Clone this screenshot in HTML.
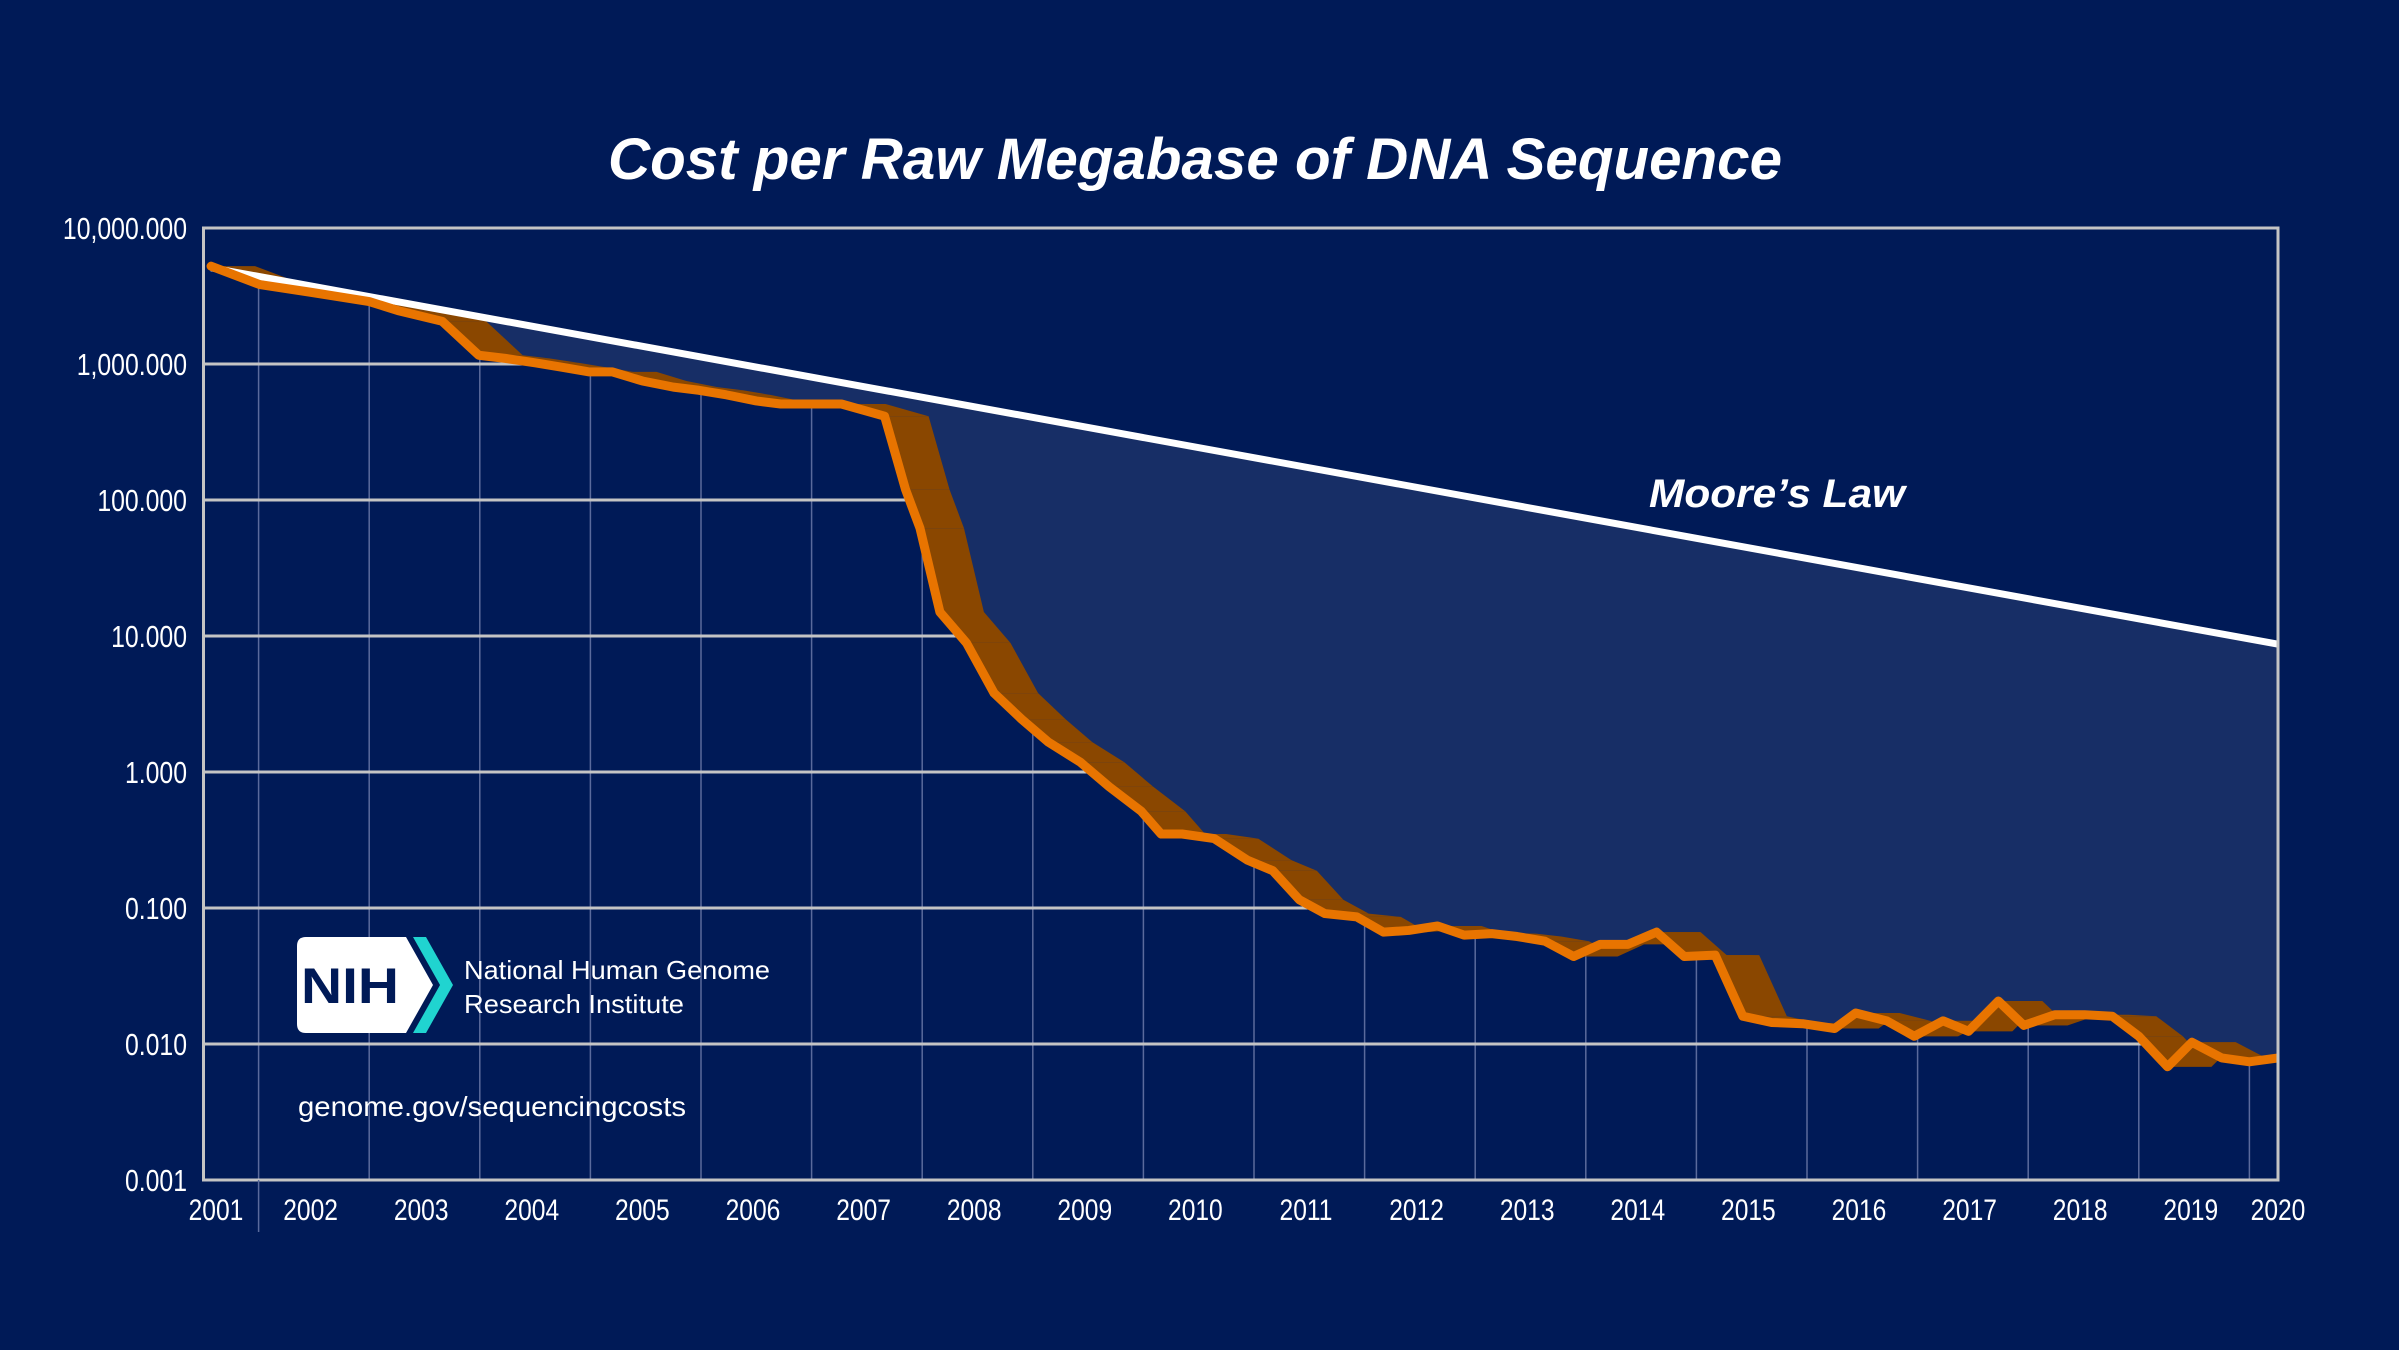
<!DOCTYPE html>
<html><head><meta charset="utf-8"><style>
html,body{margin:0;padding:0;background:#001a57;}
svg{display:block;}
text{font-family:"Liberation Sans",sans-serif;}
</style></head><body>
<svg id="chart" width="2399" height="1350" viewBox="0 0 2399 1350" xmlns="http://www.w3.org/2000/svg">
<rect x="0" y="0" width="2399" height="1350" fill="#001a57"/>
<text x="1195" y="179" text-anchor="middle" font-size="58" font-weight="bold" font-style="italic" fill="#fff" textLength="1174" lengthAdjust="spacingAndGlyphs">Cost per Raw Megabase of DNA Sequence</text>
<defs>
<clipPath id="plotClip"><rect x="203.5" y="228" width="2074.5" height="952"/></clipPath>
<clipPath id="gridClip"><polygon id="gridClipPoly" points=""/></clipPath>
</defs>
<g id="gridV"></g>
<g id="gridH"></g>
<g id="marks" clip-path="url(#plotClip)"></g>
<rect x="203.5" y="228" width="2074.5" height="952" fill="none" stroke="#c4c4c4" stroke-width="3"/>
<line x1="258.6" y1="1180" x2="258.6" y2="1232" stroke="#5a6a9c" stroke-width="1.5"/>
<g id="yLabels"></g>
<g id="xLabels"></g>
<text x="1649" y="507" font-size="40" font-weight="bold" font-style="italic" fill="#fff" textLength="256" lengthAdjust="spacingAndGlyphs">Moore’s Law</text>
<g>
<path d="M306 937 H406 L433 985 L406 1033 H306 Q297 1033 297 1024 V946 Q297 937 306 937 Z" fill="#fff"/>
<path d="M413 937 H426 L453 985 L426 1033 H413 L440 985 Z" fill="#20d4d0"/>
<text x="350" y="1003" text-anchor="middle" font-size="50" font-weight="bold" fill="#001a57" textLength="98" lengthAdjust="spacingAndGlyphs">NIH</text>
<text x="464" y="979" font-size="26" fill="#fff" textLength="306" lengthAdjust="spacingAndGlyphs">National Human Genome</text>
<text x="464" y="1013" font-size="26" fill="#fff" textLength="220" lengthAdjust="spacingAndGlyphs">Research Institute</text>
</g>
<text x="298" y="1116" font-size="28" fill="#fff" textLength="388" lengthAdjust="spacingAndGlyphs">genome.gov/sequencingcosts</text>
</svg>
<script>
const dates = [2001.57,2002.01,2002.47,2003.00,2003.26,2003.66,2003.99,2004.23,2004.50,2004.74,2004.99,2005.20,2005.47,2005.75,2005.98,2006.23,2006.50,2006.72,2006.98,2007.27,2007.66,2007.85,2007.98,2008.16,2008.40,2008.65,2008.90,2009.14,2009.43,2009.69,2009.98,2010.16,2010.35,2010.64,2010.94,2011.17,2011.41,2011.64,2011.93,2012.17,2012.40,2012.66,2012.90,2013.15,2013.38,2013.63,2013.89,2014.13,2014.38,2014.64,2014.89,2015.17,2015.42,2015.68,2015.96,2016.25,2016.44,2016.72,2016.97,2017.23,2017.46,2017.73,2017.96,2018.24,2018.51,2018.76,2019.00,2019.26,2019.48,2019.75,2020.00,2020.26];
const costs = [5240,3840,3370,2880,2470,2060,1160,1100,1020,947,875,875,750,676,641,593,535,508,508,508,413,119,62,15,8.9,3.8,2.44,1.66,1.18,0.78,0.515,0.35,0.35,0.324,0.225,0.188,0.115,0.091,0.086,0.0665,0.0684,0.0738,0.0632,0.0648,0.0617,0.057,0.044,0.054,0.054,0.0665,0.044,0.045,0.016,0.0144,0.0141,0.013,0.0169,0.0148,0.0114,0.0148,0.0124,0.0207,0.0137,0.0164,0.0164,0.016,0.0114,0.0068,0.0103,0.0079,0.0074,0.0079];
const mooreDates = [2001.57,2020.26];
const mooreCosts = [5100,8.7];
const yTicks = [10000,1000,100,10,1,0.1,0.01,0.001];
const yTickLabels = ["10,000.000","1,000.000","100.000","10.000","1.000","0.100","0.010","0.001"];
const years = [2001,2002,2003,2004,2005,2006,2007,2008,2009,2010,2011,2012,2013,2014,2015,2016,2017,2018,2019,2020];

const NS="http://www.w3.org/2000/svg";
const L=203.5,R=2278,T=228,B=1180;
function xs(t){return 258.6+(t-2002)*110.6;}
function ys(v){return T+(4-Math.log10(v))*136;}
function mk(tag,attrs,parent){const e=document.createElementNS(NS,tag);for(const k in attrs)e.setAttribute(k,attrs[k]);parent.appendChild(e);return e;}
const pts=dates.map((d,i)=>[xs(d),ys(costs[i])]);
const mp=mooreDates.map((d,i)=>[xs(d),ys(mooreCosts[i])]);

document.getElementById('gridClipPoly').setAttribute('points',[[L,pts[0][1]],...pts,[R,pts[pts.length-1][1]],[R,B],[L,B]].map(p=>p.join(',')).join(' '));
const gv=document.getElementById('gridV');gv.setAttribute('clip-path','url(#gridClip)');
for(let y=2002;y<=2020;y++){
  const l=mk('line',{x1:xs(y),x2:xs(y),y1:T,y2:B,stroke:'#5a6a9c','stroke-width':1.5},gv);
  
  
}
const gh=document.getElementById('gridH');gh.setAttribute('clip-path','url(#gridClip)');
yTicks.forEach(v=>{
  const l=mk('line',{x1:L,x2:R,y1:ys(v),y2:ys(v),stroke:'#c4c4c4','stroke-width':3},gh);
  
  
});
const marks=document.getElementById('marks');
const fillPts=[...mp,...pts.slice().reverse()];
const fill=mk('polygon',{points:fillPts.map(p=>p.join(',')).join(' '),fill:'#172e66'},marks);


const band=mk('g',{fill:'#8a4700'},marks);


const dx=44;
for(let i=0;i<pts.length-1;i++){
  const a=pts[i],b=pts[i+1];
  const q=mk('polygon',{points:[a,b,[b[0]+dx,b[1]],[a[0]+dx,a[1]]].map(p=>p.join(',')).join(' ')},band);
  
  
}
const ml=mk('polyline',{points:mp.map(p=>p.join(',')).join(' '),fill:'none',stroke:'#fff','stroke-width':7},marks);


const cl=mk('polyline',{points:pts.map(p=>p.join(',')).join(' '),fill:'none',stroke:'#e87400','stroke-width':9,'stroke-linejoin':'round','stroke-linecap':'round'},marks);



const yl=document.getElementById('yLabels');
yTicks.forEach((v,i)=>{
  const t=mk('text',{x:187/0.8,y:ys(v)+11,'text-anchor':'end','font-size':31,fill:'#fff',transform:'scale(0.8,1)'},yl);
  t.textContent=yTickLabels[i];
  
  
});
const xl=document.getElementById('xLabels');
years.forEach(y=>{
  let cx = y===2001?216:(y===2020?2278:xs(y+0.47));
  const t=mk('text',{x:cx/0.82,y:1220,'text-anchor':'middle','font-size':30,fill:'#fff',transform:'scale(0.82,1)'},xl);
  t.textContent=String(y);
  
  
});
</script>
</body></html>
